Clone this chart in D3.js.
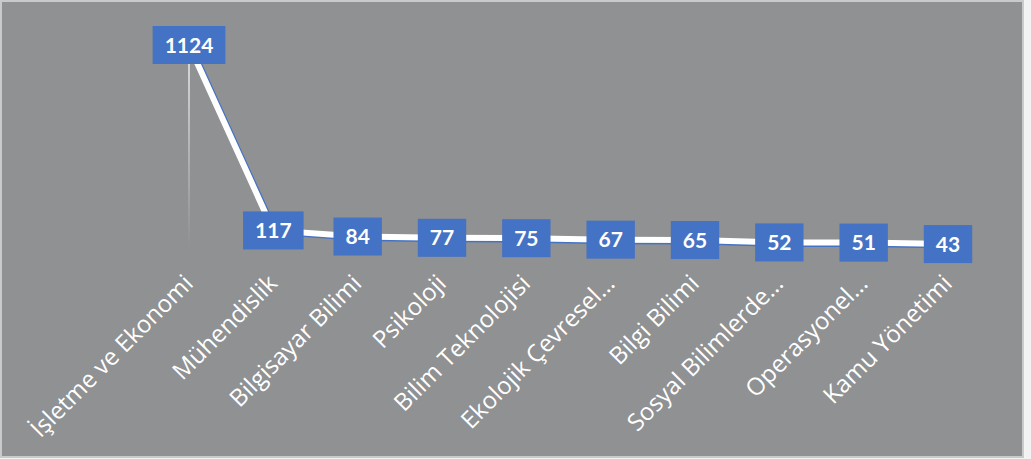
<!DOCTYPE html>
<html>
<head>
<meta charset="utf-8">
<script src="https://cdn.jsdelivr.net/npm/d3@7"></script>
<style>
  html, body { margin: 0; padding: 0; background: #f2f2f2; }
  svg { display: block; }
</style>
</head>
<body>
<svg id="chart" width="1031" height="459"></svg>
<script>
const categories = ["İşletme ve Ekonomi", "Mühendislik", "Bilgisayar Bilimi", "Psikoloji", "Bilim Teknolojisi", "Ekolojik Çevresel…", "Bilgi Bilimi", "Sosyal Bilimlerde…", "Operasyonel…", "Kamu Yönetimi"];
const values = [1124, 117, 84, 77, 75, 67, 65, 52, 51, 43];

const svg = d3.select("#chart");

// background panel with light border
svg.append("rect").attr("x", 0).attr("y", 0).attr("width", 1026).attr("height", 458).attr("fill", "#f4f4f4");
svg.append("rect").attr("x", 1).attr("y", 1).attr("width", 1022).attr("height", 456)
  .attr("fill", "#8f9192").attr("stroke", "#c9cacb").attr("stroke-width", 2);

const x = d3.scalePoint().domain(categories).range([189, 948]);
const y = d3.scaleLinear().domain([0, 1124]).range([252, 45]);

const data = categories.map((c, i) => ({ c, v: values[i] }));

// faint vertical drop line under first point
const defs = svg.append("defs");
const grad = defs.append("linearGradient").attr("id", "fade").attr("x1", 0).attr("y1", 0).attr("x2", 0).attr("y2", 1);
grad.append("stop").attr("offset", "0%").attr("stop-color", "#ffffff").attr("stop-opacity", 0.85);
grad.append("stop").attr("offset", "100%").attr("stop-color", "#ffffff").attr("stop-opacity", 0);
svg.append("rect").attr("x", x(categories[0]) - 0.8).attr("y", y(values[0])).attr("width", 1.6)
  .attr("height", y(0) - y(values[0]) - 5).attr("fill", "url(#fade)");

const line = d3.line().x(d => x(d.c)).y(d => y(d.v));

// blue shadow then white line
svg.append("path").datum(data).attr("d", line).attr("fill", "none")
  .attr("stroke", "#4472c4").attr("stroke-width", 6).attr("transform", "translate(2,1.5)");
svg.append("path").datum(data).attr("d", line).attr("fill", "none")
  .attr("stroke", "#ffffff").attr("stroke-width", 6);

// data labels
const lab = svg.append("g").selectAll("g").data(data).join("g")
  .attr("transform", d => `translate(${x(d.c)},${y(d.v)})`);
const txt = lab.append("text")
  .attr("text-anchor", "middle").attr("dy", "0.36em")
  .attr("font-family", "Lato, 'Open Sans', sans-serif").attr("font-weight", "bold")
  .attr("font-size", 21).attr("fill", "#ffffff")
  .text(d => d.v);
txt.each(function () {
  const b = this.getBBox();
  d3.select(this.parentNode).insert("rect", "text")
    .attr("x", -b.width / 2 - 12).attr("y", -19)
    .attr("width", b.width + 24).attr("height", 38)
    .attr("fill", "#4472c4");
});

// category axis labels (rotated)
const xAxis = d3.axisBottom(x).tickSize(0).tickPadding(0);
const ax = svg.append("g").attr("transform", "translate(0,279)").call(xAxis);
ax.select(".domain").remove();
ax.selectAll("text")
  .attr("font-family", "'Open Sans', sans-serif").attr("font-size", 24)
  .attr("fill", "#ffffff").attr("text-anchor", "end")
  .attr("dy", "0.35em")
  .attr("transform", "translate(-1,0) rotate(-45)");
</script>
</body>
</html>
